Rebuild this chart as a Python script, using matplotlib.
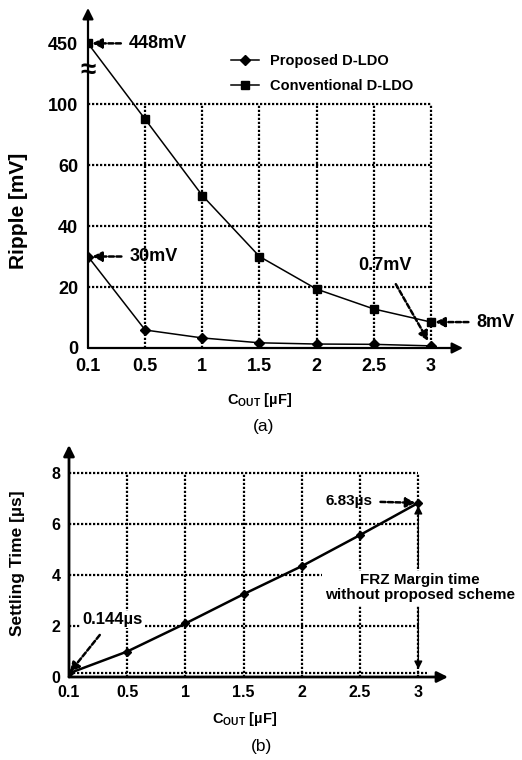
import numpy as np
import matplotlib
matplotlib.use('Agg')
import matplotlib.pyplot as plt

plt.rcParams['font.family'] = ['Liberation Sans', 'DejaVu Sans']
plt.rcParams['mathtext.fontset'] = 'custom'
plt.rcParams['mathtext.rm'] = 'Liberation Sans'
plt.rcParams['mathtext.bf'] = 'Liberation Sans:bold'

# datos
cout_labels = ['0.1', '0.5', '1', '1.5', '2', '2.5', '3']
ripple_proposed = [30, 5.9, 3.3, 1.7, 1.3, 1.2, 0.7]
ripple_conventional = [448, 90, 50, 30, 19.3, 12.8, 8.5]
ripple_ticks = [0, 20, 40, 60, 100, 450]
settling_time = [0.144, 1.0, 2.1, 3.25, 4.35, 5.57, 6.83]
settling_ticks = [0, 2, 4, 6, 8]

W, H = 522, 760
x = np.arange(len(cout_labels))
bold = dict(fontweight='bold')


# escala con corte: 0-60 lineal, 60-100 comprimido, 100-450 muy comprimido
def fwd(v):
    v = np.asarray(v, float)
    return np.where(v <= 60, v, np.where(v <= 100, 60 + (v - 60) * 0.5, 80 + (v - 100) * 20 / 350))


def inv(u):
    u = np.asarray(u, float)
    return np.where(u <= 60, u, np.where(u <= 80, 60 + (u - 60) * 2, 100 + (u - 80) * 350 / 20))


def axis_arrows(ax, lw):
    for s in ax.spines.values():
        s.set_visible(False)
    ap = dict(arrowstyle='-|>', color='k', lw=lw, mutation_scale=16, shrinkA=0, shrinkB=0)
    ax.annotate('', xy=(1, 0), xytext=(0, 0), xycoords='axes fraction', arrowprops=ap)
    ax.annotate('', xy=(0, 1), xytext=(0, 0), xycoords='axes fraction', arrowprops=ap)


def dash_arrow(ax, text, xy, xytext, fs, ha='left', va='center', sa=4, sb=3, bbox=None):
    ax.annotate(text, xy=xy, xytext=xytext, ha=ha, va=va, fontsize=fs, fontweight='bold',
                annotation_clip=False, bbox=bbox, zorder=6,
                arrowprops=dict(arrowstyle='-|>', color='k', lw=1.8, linestyle=(0, (2, 1)),
                                mutation_scale=14, shrinkA=sa, shrinkB=sb))


fig = plt.figure(figsize=(W / 100, H / 100), dpi=100)
grid = dict(color='k', lw=1.6, linestyle=(0, (1, 0.8)), zorder=1)

# ---------------- (a) Ripple ----------------
ax1 = fig.add_axes([88 / W, 1 - 348 / H, 375 / W, 340 / H])
ax1.set_yscale('function', functions=(fwd, inv))
ax1.set_xlim(0, 6.56)
ax1.set_ylim(0, 651)
ax1.vlines(x[1:], 0, 100, **grid)
ax1.hlines(ripple_ticks[1:5], 0, 6, **grid)

ax1.plot(x, ripple_proposed, color='k', lw=1.1, marker='D', ms=5, label='Proposed D-LDO', zorder=4)
ax1.plot(x, ripple_conventional, color='k', lw=1.1, marker='s', ms=6, label='Conventional D-LDO', zorder=4)

ax1.set_xticks(x)
ax1.set_xticklabels(cout_labels, fontsize=13, **bold)
ax1.set_yticks(ripple_ticks)
ax1.set_yticklabels([str(t) for t in ripple_ticks], fontsize=13, **bold)
ax1.tick_params(length=0, pad=7)
axis_arrows(ax1, 1.6)
fig.text(88 / W, 1 - 71 / H, '≈', ha='center', va='center', fontsize=20, **bold)

ax1.set_ylabel('Ripple [mV]', fontsize=15, **bold)
ax1.yaxis.set_label_coords(-60 / 375, 0.403)
ax1.set_xlabel(r'$\mathbf{C_{OUT}}$ [µF]', fontsize=10.5, **bold)
ax1.xaxis.set_label_coords(172 / 375, -43 / 340)

ax1.legend(loc='upper left', bbox_to_anchor=(231 / W, 1 - 54 / H), bbox_transform=fig.transFigure,
           frameon=False, handlelength=1.9, handletextpad=0.8,
           labelspacing=0.75, borderpad=0, borderaxespad=0, prop=dict(weight='bold', size=10.5))

dash_arrow(ax1, '448mV', (0, 448), (0.72, 448), 13)
dash_arrow(ax1, '30mV', (0, 30), (0.73, 30), 13)
dash_arrow(ax1, '8mV', (6, 8.5), (6.8, 8.5), 13)
dash_arrow(ax1, '0.7mV', (6, ripple_proposed[-1]), (5.2, 27), 13, ha='center', sa=6, sb=4)

fig.text(264 / W, 1 - 426 / H, '(a)', ha='center', va='center', fontsize=12.5)

# ---------------- (b) Settling time ----------------
ax2 = fig.add_axes([69 / W, 1 - 677 / H, 379 / W, 232 / H])
ax2.set_xlim(0, 6.51)
ax2.set_ylim(0, 9.1)
ax2.vlines(x[1:], 0, 8, **grid)
ax2.hlines(settling_ticks[1:], 0, 6, **grid)
ax2.hlines(settling_time[0], 0, 6.15, **grid)

ax2.plot(x, settling_time, color='k', lw=1.8, marker='D', ms=4.5, zorder=4)

ax2.set_xticks(x)
ax2.set_xticklabels(cout_labels, fontsize=11.5, **bold)
ax2.set_yticks(settling_ticks)
ax2.set_yticklabels([str(t) for t in settling_ticks], fontsize=11.5, **bold)
ax2.tick_params(length=0, pad=6)
axis_arrows(ax2, 2)

ax2.set_ylabel('Settling Time [µs]', fontsize=12.5, **bold)
ax2.yaxis.set_label_coords(-44 / 379, 0.49)
ax2.set_xlabel(r'$\mathbf{C_{OUT}}$ [µF]', fontsize=10.5, **bold)
ax2.xaxis.set_label_coords(176 / 379, -33 / 232)

wbox = dict(facecolor='white', edgecolor='none', pad=1)
dash_arrow(ax2, '0.144µs', (0, settling_time[0]), (0.74, 2.25), 12, ha='center', sa=6, sb=1, bbox=wbox)
dash_arrow(ax2, '6.83µs', (6, settling_time[-1]), (4.4, 6.9), 11, sa=4, sb=2)

ax2.text(6.03, 3.5, 'FRZ Margin time\nwithout proposed scheme', ha='center', va='center',
         fontsize=11, linespacing=1.05, bbox=dict(facecolor='white', edgecolor='none', pad=2),
         zorder=5, **bold)
ap = dict(arrowstyle='-|>', color='k', lw=1.0, mutation_scale=12, shrinkA=0, shrinkB=0)
ax2.annotate('', xy=(6, 6.72), xytext=(6, 4.3), arrowprops=ap, zorder=5)
ax2.annotate('', xy=(6, 0.3), xytext=(6, 2.7), arrowprops=ap, zorder=5)

fig.text(262 / W, 1 - 747 / H, '(b)', ha='center', va='center', fontsize=12.5)

plt.savefig('out.png', dpi=100)
